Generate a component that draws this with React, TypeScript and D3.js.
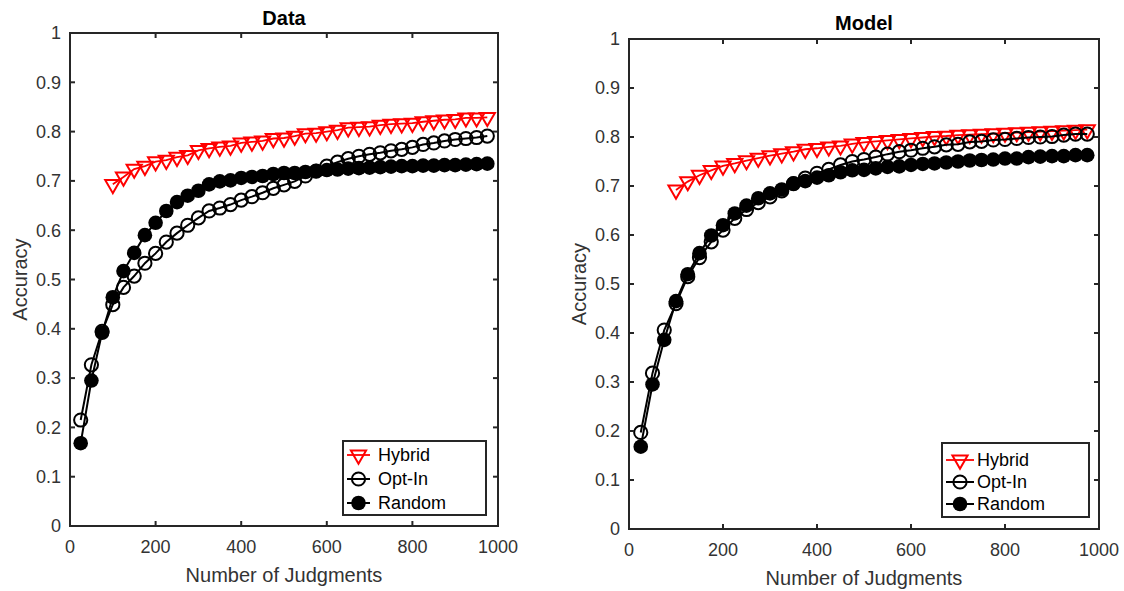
import React from "react";
import * as d3 from "d3";

// Number of judgments at which accuracy was measured
const judgments = [
  25, 50, 75, 100, 125, 150, 175, 200, 225, 250, 275, 300, 325, 350, 375, 400, 425, 450, 475, 500,
  525, 550, 575, 600, 625, 650, 675, 700, 725, 750, 775, 800, 825, 850, 875, 900, 925, 950, 975,
];
// Hybrid starts at 100 judgments
const hybridJudgments = judgments.slice(3);

// Observed accuracy ("Data")
const dataHybrid = [
  0.693, 0.708, 0.724, 0.73, 0.739, 0.742, 0.748, 0.752, 0.762, 0.766, 0.769, 0.771, 0.777, 0.779,
  0.781, 0.786, 0.787, 0.791, 0.796, 0.797, 0.8, 0.803, 0.808, 0.809, 0.81, 0.813, 0.815, 0.816,
  0.817, 0.82, 0.822, 0.824, 0.825, 0.828, 0.828, 0.829,
];
const dataOptIn = [
  0.215, 0.327, 0.395, 0.449, 0.484, 0.507, 0.533, 0.553, 0.576, 0.594, 0.61, 0.625, 0.639, 0.645,
  0.652, 0.661, 0.668, 0.676, 0.685, 0.692, 0.699, 0.71, 0.72, 0.73, 0.738, 0.745, 0.75, 0.754,
  0.757, 0.761, 0.764, 0.768, 0.774, 0.777, 0.781, 0.784, 0.786, 0.788, 0.791,
];
const dataRandom = [
  0.168, 0.295, 0.392, 0.464, 0.517, 0.554, 0.59, 0.615, 0.639, 0.657, 0.67, 0.68, 0.693, 0.699,
  0.701, 0.706, 0.708, 0.71, 0.714, 0.716, 0.716, 0.718, 0.72, 0.722, 0.723, 0.725, 0.726, 0.727,
  0.728, 0.729, 0.73, 0.73, 0.731, 0.731, 0.732, 0.732, 0.733, 0.734, 0.735,
];

// Simulated accuracy ("Model")
const modelHybrid = [
  0.692, 0.709, 0.722, 0.732, 0.741, 0.746, 0.752, 0.757, 0.762, 0.766, 0.77, 0.775, 0.777, 0.78,
  0.782, 0.786, 0.789, 0.791, 0.793, 0.795, 0.797, 0.799, 0.801, 0.802, 0.804, 0.805, 0.806, 0.807,
  0.808, 0.809, 0.81, 0.811, 0.812, 0.813, 0.814, 0.815,
];
const modelOptIn = [
  0.197, 0.318, 0.406, 0.46, 0.515, 0.554, 0.586, 0.61, 0.634, 0.652, 0.666, 0.678, 0.69, 0.705,
  0.716, 0.726, 0.734, 0.743, 0.75, 0.754, 0.759, 0.765, 0.77, 0.773, 0.777, 0.78, 0.784, 0.785,
  0.79, 0.791, 0.794, 0.795, 0.797, 0.799, 0.8, 0.801, 0.804, 0.806, 0.806,
];
const modelRandom = [
  0.168, 0.295, 0.386, 0.465, 0.52, 0.563, 0.599, 0.62, 0.644, 0.66, 0.675, 0.685, 0.693, 0.705,
  0.71, 0.717, 0.722, 0.728, 0.732, 0.733, 0.736, 0.739, 0.74, 0.743, 0.745, 0.746, 0.748, 0.75,
  0.752, 0.753, 0.754, 0.756, 0.756, 0.759, 0.76, 0.761, 0.761, 0.763, 0.763,
];

const xTicks = [0, 200, 400, 600, 800, 1000];
const yTicks = [0, 0.1, 0.2, 0.3, 0.4, 0.5, 0.6, 0.7, 0.8, 0.9, 1];
const seriesNames = ["Hybrid", "Opt-In", "Random"];

const FONT = "'Liberation Sans', Arial, sans-serif";
const AXIS = "#262626";
const RED = "#ff0000";
const OPEN_R = 6.6;
const FILLED_R = 7.3;

type Panel = {
  title: string;
  hybrid: number[];
  optIn: number[];
  random: number[];
  left: number;
  right: number;
  top: number;
  bottom: number;
  titleY: number;
  legend: { x: number; y: number; w: number; h: number; rows: number[]; lineX0: number; lineX1: number; textX: number };
};

const panels: Panel[] = [
  {
    title: "Data",
    hybrid: dataHybrid,
    optIn: dataOptIn,
    random: dataRandom,
    left: 70,
    right: 498,
    top: 33,
    bottom: 526,
    titleY: 25,
    legend: { x: 343, y: 441, w: 143, h: 74, rows: [455, 479, 503], lineX0: 347, lineX1: 370, textX: 378 },
  },
  {
    title: "Model",
    hybrid: modelHybrid,
    optIn: modelOptIn,
    random: modelRandom,
    left: 629,
    right: 1099,
    top: 39,
    bottom: 529,
    titleY: 30,
    legend: { x: 942, y: 443, w: 147, h: 74, rows: [460, 482, 504], lineX0: 946, lineX1: 974, textX: 977 },
  },
];

const triPath = d3.symbol(d3.symbolTriangle, 100)() as string;

// Hollow downward triangle marker
function TriangleDown({ x, y }: { x: number; y: number }) {
  return (
    <path
      d={triPath}
      transform={`translate(${x},${y}) rotate(180)`}
      fill="none"
      stroke={RED}
      strokeWidth={2}
    />
  );
}

function PanelChart({ p }: { p: Panel }) {
  const x = d3.scaleLinear().domain([0, 1000]).range([p.left, p.right]);
  const y = d3.scaleLinear().domain([0, 1]).range([p.bottom, p.top]);
  const line = d3
    .line<[number, number]>()
    .x((d) => x(d[0]))
    .y((d) => y(d[1]));

  const hyb: [number, number][] = hybridJudgments.map((j, i) => [j, p.hybrid[i]]);
  const opt: [number, number][] = judgments.map((j, i) => [j, p.optIn[i]]);
  const rnd: [number, number][] = judgments.map((j, i) => [j, p.random[i]]);
  const tickLen = 5;
  const cx = (p.left + p.right) / 2;
  const cy = (p.top + p.bottom) / 2;
  const L = p.legend;
  const lmid = (L.lineX0 + L.lineX1) / 2;

  return (
    <g>
      {/* series: hybrid, then opt-in, then random on top */}
      <path d={line(hyb) as string} fill="none" stroke={RED} strokeWidth={1.8} />
      {hyb.map((d, i) => (
        <TriangleDown key={"h" + i} x={x(d[0])} y={y(d[1])} />
      ))}
      <path d={line(opt) as string} fill="none" stroke="#000" strokeWidth={2} />
      {opt.map((d, i) => (
        <circle key={"o" + i} cx={x(d[0])} cy={y(d[1])} r={OPEN_R} fill="none" stroke="#000" strokeWidth={2} />
      ))}
      <path d={line(rnd) as string} fill="none" stroke="#000" strokeWidth={2} />
      {rnd.map((d, i) => (
        <circle key={"r" + i} cx={x(d[0])} cy={y(d[1])} r={FILLED_R} fill="#000" />
      ))}

      {/* axes box with inward ticks on all sides */}
      <rect
        x={p.left}
        y={p.top}
        width={p.right - p.left}
        height={p.bottom - p.top}
        fill="none"
        stroke={AXIS}
        strokeWidth={2}
      />
      {xTicks.map((t) => (
        <g key={"xt" + t}>
          <line x1={x(t)} x2={x(t)} y1={p.bottom} y2={p.bottom - tickLen} stroke={AXIS} strokeWidth={2} />
          <line x1={x(t)} x2={x(t)} y1={p.top} y2={p.top + tickLen} stroke={AXIS} strokeWidth={2} />
          <text
            x={x(t)}
            y={p.bottom + 27}
            textAnchor="middle"
            fontFamily={FONT}
            fontSize={18}
            fill="#333"
          >
            {t}
          </text>
        </g>
      ))}
      {yTicks.map((t) => (
        <g key={"yt" + t}>
          <line x1={p.left} x2={p.left + tickLen} y1={y(t)} y2={y(t)} stroke={AXIS} strokeWidth={2} />
          <line x1={p.right} x2={p.right - tickLen} y1={y(t)} y2={y(t)} stroke={AXIS} strokeWidth={2} />
          <text
            x={p.left - 9}
            y={y(t)}
            dy="0.35em"
            textAnchor="end"
            fontFamily={FONT}
            fontSize={18}
            fill="#333"
          >
            {String(t)}
          </text>
        </g>
      ))}

      {/* labels */}
      <text x={cx} y={p.titleY} textAnchor="middle" fontFamily={FONT} fontSize={20} fontWeight="bold" fill="#000">
        {p.title}
      </text>
      <text x={cx} y={p.bottom + 56} textAnchor="middle" fontFamily={FONT} fontSize={20} fill="#333">
        Number of Judgments
      </text>
      <text
        transform={`translate(${p.left - 43},${cy}) rotate(-90)`}
        textAnchor="middle"
        fontFamily={FONT}
        fontSize={20}
        fill="#333"
      >
        Accuracy
      </text>

      {/* legend */}
      <rect x={L.x} y={L.y} width={L.w} height={L.h} fill="white" stroke={AXIS} strokeWidth={2} />
      <line x1={L.lineX0} x2={L.lineX1} y1={L.rows[0]} y2={L.rows[0]} stroke={RED} strokeWidth={1.8} />
      <TriangleDown x={lmid} y={L.rows[0]} />
      <line x1={L.lineX0} x2={L.lineX1} y1={L.rows[1]} y2={L.rows[1]} stroke="#000" strokeWidth={2} />
      <circle cx={lmid} cy={L.rows[1]} r={OPEN_R} fill="none" stroke="#000" strokeWidth={2} />
      <line x1={L.lineX0} x2={L.lineX1} y1={L.rows[2]} y2={L.rows[2]} stroke="#000" strokeWidth={2} />
      <circle cx={lmid} cy={L.rows[2]} r={FILLED_R} fill="#000" />
      {seriesNames.map((n, i) => (
        <text key={n} x={L.textX} y={L.rows[i]} dy="0.35em" fontFamily={FONT} fontSize={18} fill="#000">
          {n}
        </text>
      ))}
    </g>
  );
}

export default function App() {
  return (
    <svg
      width={1124}
      height={591}
      style={{ position: "absolute", left: 0, top: 0, background: "white" }}
    >
      <rect width={1124} height={591} fill="white" />
      {panels.map((p) => (
        <PanelChart key={p.title} p={p} />
      ))}
    </svg>
  );
}
